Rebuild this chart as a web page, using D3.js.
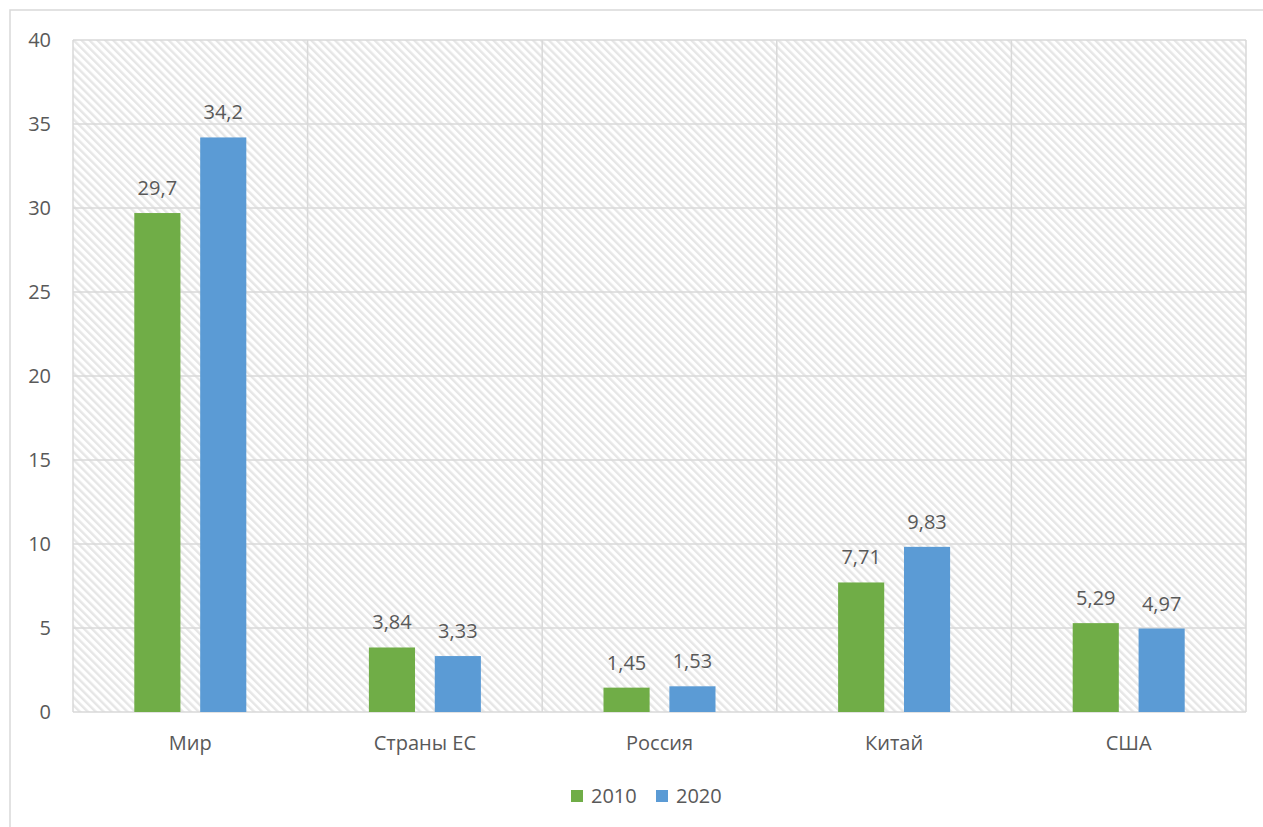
<!DOCTYPE html>
<html>
<head>
<meta charset="utf-8">
<script src="https://cdn.jsdelivr.net/npm/d3@7"></script>
<style>
  body { margin: 0; background: #fff; }
  text { font-family: "Open Sans", "Noto Sans", sans-serif; fill: #595959; }
</style>
</head>
<body>
<svg id="chart" width="1263" height="827"></svg>
<script>
const categories = ['Мир', 'Страны ЕС', 'Россия', 'Китай', 'США']
const years = ['2010', '2020']
const values2010 = [29.7, 3.84, 1.45, 7.71, 5.29]
const values2020 = [34.2, 3.33, 1.53, 9.83, 4.97]
const yTicks = [0, 5, 10, 15, 20, 25, 30, 35, 40]
const colors = ['#70ad47', '#5b9bd5']

const plotLeft = 73, plotRight = 1246, plotTop = 40, plotBottom = 712
const grid = '#d9d9d9'
const fontSize = 20

const svg = d3.select('svg#chart')

// outer chart frame, runs off the page on the right and bottom
svg.append('rect')
  .attr('x', 10).attr('y', 10)
  .attr('width', 1300).attr('height', 900)
  .attr('fill', '#fff')
  .attr('stroke', grid)
  .attr('stroke-width', 1.5)

const pat = svg.append('defs')
  .append('pattern')
  .attr('id', 'hatch')
  .attr('patternUnits', 'userSpaceOnUse')
  .attr('width', 5.6).attr('height', 5.6)
  .attr('patternTransform', 'rotate(-45)')
pat.append('rect').attr('width', 5.6).attr('height', 5.6).attr('fill', '#fff')
pat.append('rect').attr('width', 2.4).attr('height', 5.6).attr('fill', '#e6e6e6')

const xScale = d3.scaleBand()
  .domain(categories)
  .range([plotLeft, plotRight])

const xInner = d3.scaleBand()
  .domain(years)
  .range([xScale.bandwidth() / 2 - 56, xScale.bandwidth() / 2 + 56])
  .paddingInner(0.3)

const yScale = d3.scaleLinear()
  .domain([0, 40])
  .range([plotBottom, plotTop])

svg.append('rect')
  .attr('x', plotLeft).attr('y', plotTop)
  .attr('width', plotRight - plotLeft).attr('height', plotBottom - plotTop)
  .attr('fill', 'url(#hatch)')

// horizontal gridlines
svg.append('g')
  .selectAll('line')
  .data(yTicks)
  .enter()
  .append('line')
  .attr('x1', plotLeft).attr('x2', plotRight)
  .attr('y1', d => yScale(d)).attr('y2', d => yScale(d))
  .attr('stroke', grid)
  .attr('stroke-width', 1.5)

// category separators
svg.append('g')
  .selectAll('line')
  .data(categories.concat(['end']))
  .enter()
  .append('line')
  .attr('x1', (d, i) => i < categories.length ? xScale(d) : plotRight)
  .attr('x2', (d, i) => i < categories.length ? xScale(d) : plotRight)
  .attr('y1', plotTop).attr('y2', plotBottom)
  .attr('stroke', grid)
  .attr('stroke-width', 1.5)

svg.append('g')
  .selectAll('text')
  .data(yTicks)
  .enter()
  .append('text')
  .attr('x', 51)
  .attr('y', d => yScale(d))
  .attr('dy', '0.35em')
  .attr('text-anchor', 'end')
  .attr('font-size', fontSize)
  .text(d => d)

const series = [values2010, values2020]
const fmt = v => String(v).replace('.', ',')

series.forEach((vals, s) => {
  const g = svg.append('g')
  g.selectAll('rect')
    .data(vals)
    .enter()
    .append('rect')
    .attr('x', (v, i) => xScale(categories[i]) + xInner(years[s]))
    .attr('y', v => yScale(v))
    .attr('width', xInner.bandwidth())
    .attr('height', v => plotBottom - yScale(v))
    .attr('fill', colors[s])

  g.selectAll('text')
    .data(vals)
    .enter()
    .append('text')
    .attr('x', (v, i) => xScale(categories[i]) + xInner(years[s]) + xInner.bandwidth() / 2)
    .attr('y', v => yScale(v) - 18)
    .attr('text-anchor', 'middle')
    .attr('font-size', fontSize)
    .text(fmt)
})

svg.append('g')
  .selectAll('text')
  .data(categories)
  .enter()
  .append('text')
  .attr('x', d => xScale(d) + xScale.bandwidth() / 2)
  .attr('y', plotBottom + 38)
  .attr('text-anchor', 'middle')
  .attr('font-size', fontSize)
  .text(d => d)

// legend
const legendX = [571, 656]
const legend = svg.append('g')
  .selectAll('g')
  .data(years)
  .enter()
  .append('g')
  .attr('transform', (d, i) => `translate(${legendX[i]},790)`)
legend.append('rect')
  .attr('width', 12).attr('height', 12)
  .attr('fill', (d, i) => colors[i])
legend.append('text')
  .attr('x', 20).attr('y', 13)
  .attr('font-size', fontSize)
  .text(d => d)
</script>
</body>
</html>
